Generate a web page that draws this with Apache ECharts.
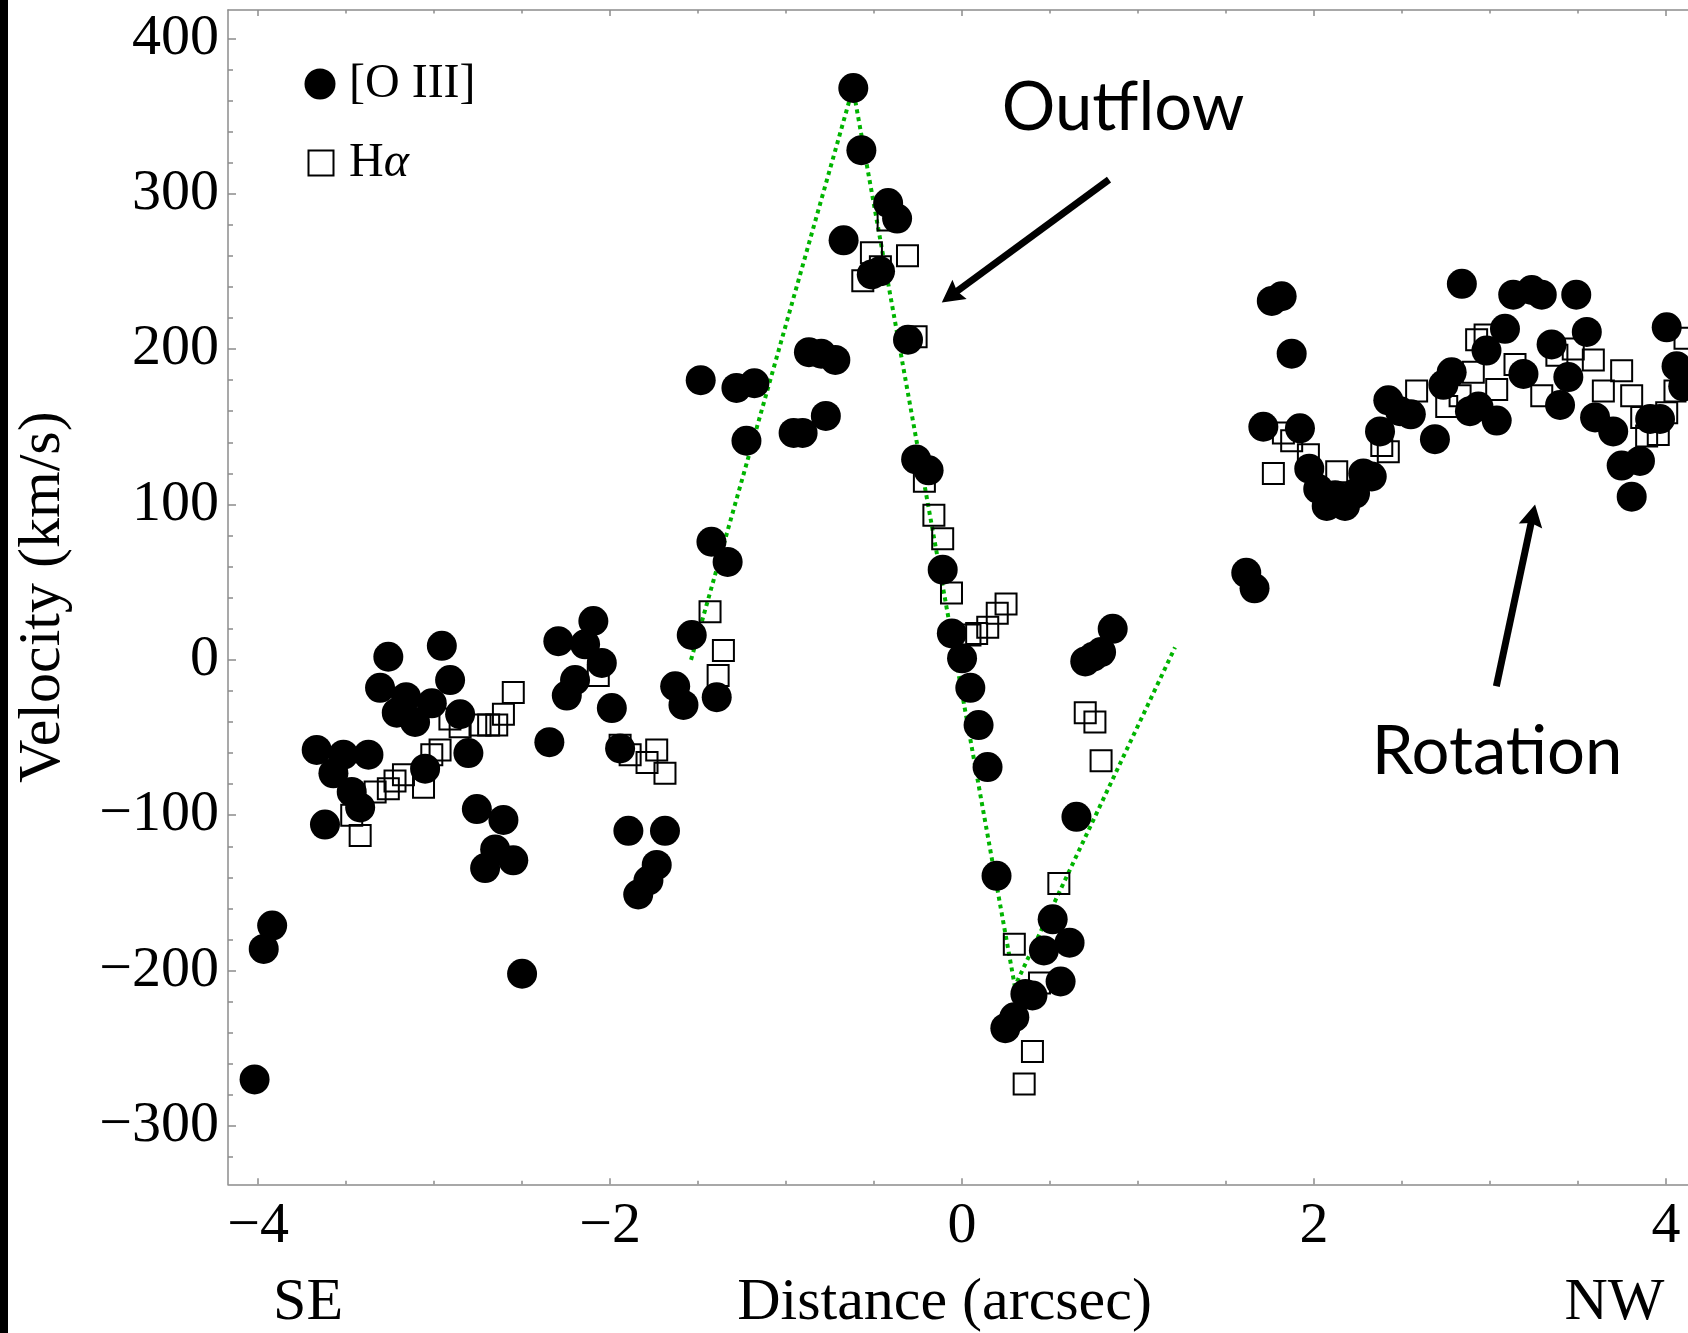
<!DOCTYPE html>
<html>
<head>
<meta charset="utf-8">
<script src="https://cdn.jsdelivr.net/npm/echarts@6/dist/echarts.min.js"></script>
<style>
  html, body { margin: 0; padding: 0; background: #ffffff; }
  #chart { width: 1688px; height: 1333px; }
</style>
</head>
<body>
<div id="chart"></div>
<script>
// Axis ranges (arcsec, km/s)
const xRange = [-4.171, 4.125];
const yRange = [-337.5, 418.2];

// Tick values
const xMajorTicks = [-4, -2, 0, 2, 4];
const xMinorTicks = [-3.5, -3, -2.5, -1.5, -1, -0.5, 0.5, 1, 1.5, 2.5, 3, 3.5];
const yMajorTicks = [-300, -200, -100, 0, 100, 200, 300, 400];
const yMinorTicks = [-320, -280, -260, -240, -220, -180, -160, -140, -120, -80, -60, -40, -20,
  20, 40, 60, 80, 120, 140, 160, 180, 220, 240, 260, 280, 320, 340, 360, 380];

// [O III] velocities: [distance, velocity]
const oiiiPoints = [
  [-4.02, -270], [-3.968, -186], [-3.92, -171],
  [-3.667, -58], [-3.62, -106], [-3.572, -73], [-3.515, -61], [-3.468, -85], [-3.42, -95],
  [-3.373, -61], [-3.307, -18], [-3.26, 2], [-3.212, -34], [-3.159, -24], [-3.108, -40],
  [-3.051, -70], [-3.013, -28], [-2.956, 9], [-2.909, -13], [-2.852, -35], [-2.805, -60],
  [-2.757, -96], [-2.71, -134], [-2.653, -122], [-2.606, -103], [-2.55, -129], [-2.5, -202],
  [-2.345, -53], [-2.294, 12], [-2.246, -23], [-2.199, -13], [-2.142, 10], [-2.095, 25],
  [-2.047, -2], [-1.99, -31], [-1.943, -57], [-1.896, -110], [-1.84, -151], [-1.782, -142],
  [-1.735, -132], [-1.688, -110], [-1.63, -17], [-1.583, -29], [-1.536, 16],
  [-1.485, 180], [-1.424, 76], [-1.394, -24], [-1.332, 63], [-1.282, 175], [-1.225, 141], [-1.18, 178],
  [-0.957, 146], [-0.906, 146], [-0.87, 198], [-0.8, 197], [-0.774, 157], [-0.72, 193],
  [-0.673, 270], [-0.618, 368], [-0.572, 328], [-0.513, 248], [-0.466, 250], [-0.42, 294],
  [-0.369, 284], [-0.307, 206], [-0.261, 129], [-0.19, 122], [-0.11, 58], [-0.058, 17],
  [0.0, 1], [0.047, -18], [0.094, -42], [0.145, -69], [0.196, -139], [0.246, -237],
  [0.297, -230], [0.36, -215], [0.4, -216], [0.465, -187], [0.515, -167], [0.56, -207],
  [0.611, -182], [0.65, -101], [0.7, -1], [0.745, 2], [0.79, 5], [0.856, 20],
  [1.615, 56], [1.662, 46], [1.712, 150], [1.76, 231], [1.816, 234], [1.873, 197], [1.92, 149],
  [1.973, 123], [2.024, 110], [2.072, 99], [2.12, 106], [2.176, 99], [2.233, 107], [2.28, 120],
  [2.328, 118], [2.375, 147], [2.422, 167], [2.489, 160], [2.55, 158], [2.687, 142],
  [2.735, 177], [2.782, 185], [2.84, 242], [2.886, 160], [2.934, 163], [2.98, 199],
  [3.038, 154], [3.085, 213], [3.132, 235], [3.19, 184], [3.237, 238], [3.294, 235],
  [3.35, 203], [3.398, 164], [3.445, 182], [3.49, 235], [3.55, 211], [3.597, 156],
  [3.7, 147], [3.748, 125], [3.805, 105], [3.852, 128], [3.91, 155], [3.966, 155],
  [4.004, 214], [4.06, 189], [4.098, 176]
];

// H-alpha velocities: [distance, velocity]
const halphaPoints = [
  [-3.468, -100], [-3.42, -113], [-3.335, -85], [-3.26, -83], [-3.222, -78], [-3.174, -74],
  [-3.06, -82], [-3.013, -61], [-2.966, -58], [-2.91, -38], [-2.852, -43], [-2.739, -42],
  [-2.69, -42], [-2.644, -42], [-2.606, -35], [-2.55, -21],
  [-2.067, -10], [-1.943, -55], [-1.886, -61], [-1.79, -66], [-1.735, -58], [-1.688, -73],
  [-1.432, 31], [-1.386, -10], [-1.356, 6],
  [-0.564, 244], [-0.515, 262], [-0.464, 253], [-0.42, 283], [-0.31, 260], [-0.261, 208],
  [-0.214, 115], [-0.16, 93], [-0.11, 78], [-0.06, 43], [0.045, 16], [0.083, 17],
  [0.146, 21], [0.2, 30], [0.25, 36], [0.297, -183], [0.353, -273], [0.4, -252],
  [0.44, -208], [0.55, -144], [0.7, -34], [0.755, -40], [0.79, -65],
  [1.769, 120], [1.826, 146], [1.873, 141], [1.968, 132], [2.129, 121], [2.385, 138],
  [2.422, 134], [2.583, 173], [2.754, 163], [2.83, 170], [2.905, 185], [2.924, 206],
  [2.972, 209], [3.038, 174], [3.142, 190], [3.294, 170], [3.38, 196], [3.473, 200],
  [3.587, 193], [3.644, 173], [3.748, 186], [3.805, 170], [3.862, 156], [3.89, 144],
  [3.956, 145], [4.004, 159], [4.051, 173], [4.108, 207]
];

// Bicone outflow model: vertices of the dotted guide line
const outflowModel = [[-1.54, 0], [-0.62, 368], [0.30, -210], [1.21, 8]];

const serif = '"Liberation Serif", "Times New Roman", serif';
const sans = 'Lato, "Open Sans", sans-serif';
const frameColor = '#8c8c8c';

function signed(v) {
  return v < 0 ? '\u2212' + Math.abs(v) : String(v);
}

function xLayer(position, ticks, tickLen, withLine, withLabel, extra) {
  return Object.assign({
    type: 'value', position: position, min: xRange[0], max: xRange[1],
    axisLine: { show: withLine, onZero: false, lineStyle: { color: frameColor, width: 1.5 } },
    axisTick: { show: true, inside: true, length: tickLen, customValues: ticks,
      lineStyle: { color: frameColor, width: 1.5 } },
    axisLabel: withLabel ? {
      show: true, customValues: ticks, formatter: signed, margin: 13,
      fontSize: 58, fontFamily: serif, color: '#000'
    } : { show: false },
    splitLine: { show: false }, minorTick: { show: false }
  }, extra || {});
}

function yLayer(ticks, tickLen, withLine, withLabel, extra) {
  return Object.assign({
    type: 'value', position: 'left', min: yRange[0], max: yRange[1],
    axisLine: { show: withLine, onZero: false, lineStyle: { color: frameColor, width: 1.5 } },
    axisTick: { show: true, inside: true, length: tickLen, customValues: ticks,
      lineStyle: { color: frameColor, width: 1.5 } },
    axisLabel: withLabel ? {
      show: true, customValues: ticks, formatter: signed, margin: 9,
      fontSize: 58, fontFamily: serif, color: '#000'
    } : { show: false },
    splitLine: { show: false }, minorTick: { show: false }
  }, extra || {});
}

const chart = echarts.init(document.getElementById('chart'), null, { renderer: 'canvas' });

chart.setOption({
  animation: false,
  backgroundColor: '#ffffff',
  grid: { left: 228, right: 0, top: 10, bottom: 148.7, containLabel: false, outerBoundsMode: 'none' },
  xAxis: [
    xLayer('bottom', xMajorTicks, 6, true, true, {
      name: 'Distance (arcsec)', nameLocation: 'middle', nameGap: 89,
      nameTextStyle: { fontSize: 60, fontFamily: serif, color: '#000', padding: [0, 27, 0, 0] }
    }),
    xLayer('bottom', xMinorTicks, 3.5, false, false),
    xLayer('top', xMajorTicks, 6, true, false),
    xLayer('top', xMinorTicks, 3.5, false, false)
  ],
  yAxis: [
    yLayer(yMajorTicks, 8, true, true, {
      name: 'Velocity (km/s)', nameLocation: 'middle', nameGap: 155,
      nameTextStyle: { fontSize: 60, fontFamily: serif, color: '#000' }
    }),
    yLayer(yMinorTicks, 5, false, false)
  ],
  series: [
    {
      name: 'Outflow model', type: 'line', data: outflowModel,
      xAxisIndex: 0, yAxisIndex: 0, symbol: 'none', silent: true, z: 1,
      lineStyle: { color: '#00b400', width: 4, type: [4, 4], cap: 'butt', opacity: 1 }
    },
    {
      name: 'H\u03b1', type: 'scatter', data: halphaPoints,
      xAxisIndex: 0, yAxisIndex: 0, symbol: 'rect', symbolSize: 21, z: 2,
      itemStyle: { color: 'rgba(0,0,0,0)', borderColor: '#000', borderWidth: 2, opacity: 1 }
    },
    {
      name: '[O III]', type: 'scatter', data: oiiiPoints,
      xAxisIndex: 0, yAxisIndex: 0, symbol: 'circle', symbolSize: 30, z: 3,
      itemStyle: { color: '#000', opacity: 1 }
    }
  ]
});

// Annotations placed in data space
const px = (x, y) => chart.convertToPixel({ xAxisIndex: 0, yAxisIndex: 0 }, [x, y]);

function arrow(tail, tip, lineW, headLen, headW) {
  const a = px(tail[0], tail[1]);
  const b = px(tip[0], tip[1]);
  const dx = b[0] - a[0], dy = b[1] - a[1];
  const len = Math.hypot(dx, dy);
  const ux = dx / len, uy = dy / len;
  const nx = -uy, ny = ux;
  const bx = b[0] - ux * headLen, by = b[1] - uy * headLen;
  return [
    { type: 'line', silent: true, z: 100,
      shape: { x1: a[0], y1: a[1], x2: bx + ux * 4, y2: by + uy * 4 },
      style: { stroke: '#000', lineWidth: lineW } },
    { type: 'polygon', silent: true, z: 100,
      shape: { points: [
        [b[0], b[1]],
        [bx + nx * headW / 2, by + ny * headW / 2],
        [bx + ux * 3, by + uy * 3],
        [bx - nx * headW / 2, by - ny * headW / 2]
      ] },
      style: { fill: '#000' } }
  ];
}

const outflowLabelPos = px(0.915, 354.8);
const rotationLabelPos = px(3.04, -59.6);
const sePos = px(-3.716, 0);
const nwPos = px(3.707, 0);

chart.setOption({
  graphic: [
    { type: 'rect', silent: true, z: 100, shape: { x: 0, y: 0, width: 8, height: 1333 }, style: { fill: '#000' } },
    // legend
    { type: 'circle', silent: true, z: 100, shape: { cx: 320, cy: 84, r: 15.5 }, style: { fill: '#000' } },
    { type: 'text', silent: true, z: 100, x: 349, y: 84,
      style: { text: '[O III]', font: '48px ' + serif, fill: '#000', textAlign: 'left', textVerticalAlign: 'middle' } },
    { type: 'rect', silent: true, z: 100, shape: { x: 308.5, y: 150.5, width: 25, height: 25 },
      style: { fill: 'rgba(0,0,0,0)', stroke: '#000', lineWidth: 2 } },
    { type: 'text', silent: true, z: 100, x: 349, y: 163,
      style: { text: 'H{a|\u03b1}', font: '48px ' + serif, fill: '#000', textAlign: 'left', textVerticalAlign: 'middle',
        rich: { a: { fontStyle: 'italic', fontSize: 48, fontFamily: serif, fill: '#000' } } } },
    // direction labels
    { type: 'text', silent: true, z: 100, x: sePos[0], y: 1303,
      style: { text: 'SE', font: '60px ' + serif, fill: '#000', textAlign: 'center', textVerticalAlign: 'middle' } },
    { type: 'text', silent: true, z: 100, x: nwPos[0], y: 1303,
      style: { text: 'NW', font: '60px ' + serif, fill: '#000', textAlign: 'center', textVerticalAlign: 'middle' } },
    // callouts
    { type: 'text', silent: true, z: 100, x: outflowLabelPos[0], y: outflowLabelPos[1],
      style: { text: 'Outflow', font: '67px ' + sans, fill: '#000', textAlign: 'center', textVerticalAlign: 'middle' } },
    { type: 'text', silent: true, z: 100, x: rotationLabelPos[0], y: rotationLabelPos[1],
      style: { text: 'Rotation', font: '67px ' + sans, fill: '#000', textAlign: 'center', textVerticalAlign: 'middle' } }
  ].concat(
    arrow([0.835, 309], [-0.115, 230], 7, 22, 24),
    arrow([3.036, -17], [3.256, 100], 7, 22, 24)
  )
});
</script>
</body>
</html>
